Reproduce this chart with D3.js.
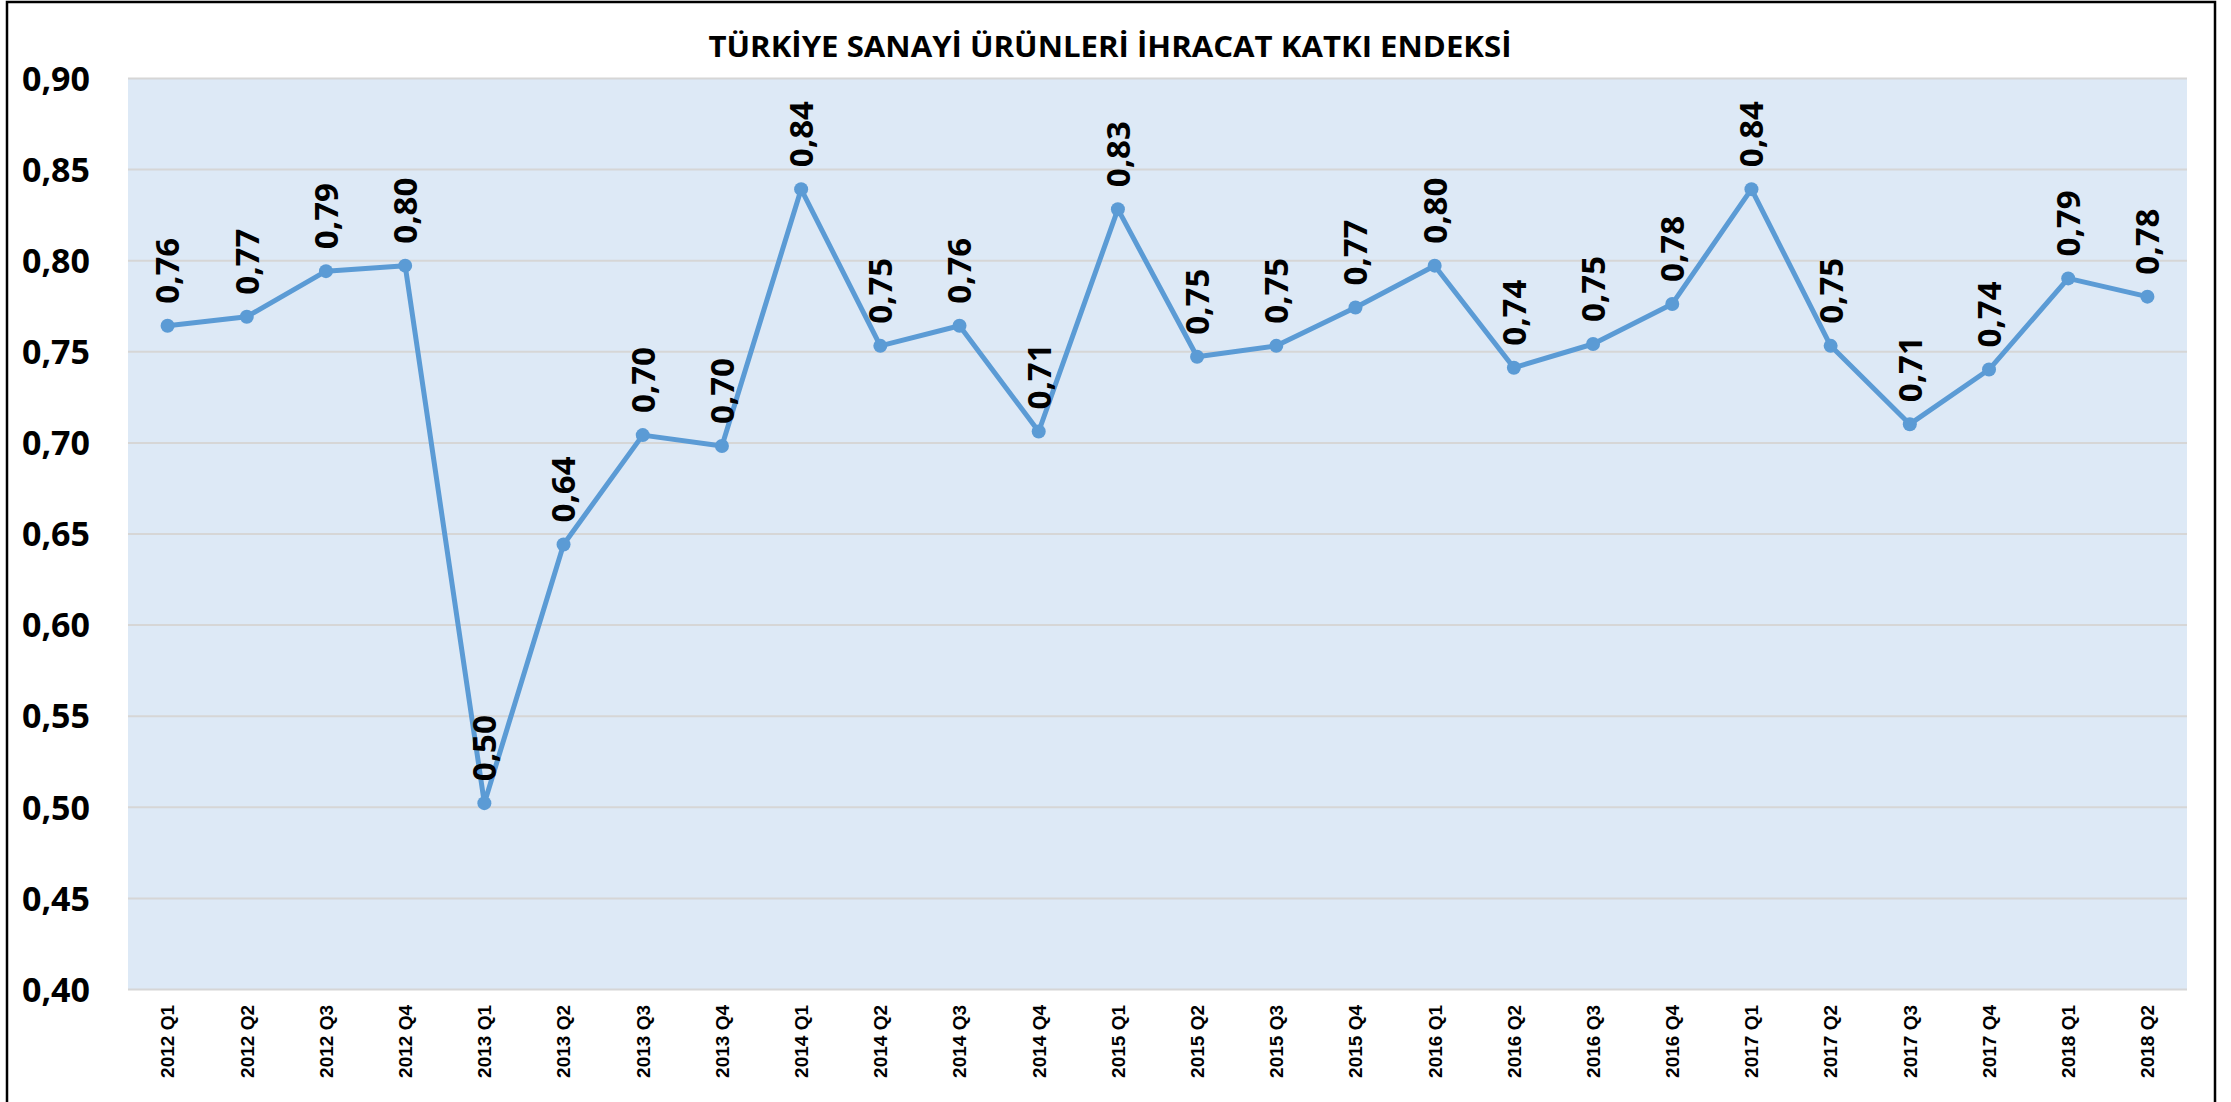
<!DOCTYPE html>
<html>
<head>
<meta charset="utf-8">
<script src="https://cdn.jsdelivr.net/npm/d3@7"></script>
<style>
  html, body { margin: 0; padding: 0; background: #ffffff; }
  svg { display: block; }
</style>
</head>
<body>
<svg id="chart" width="2231" height="1102"></svg>
<script>
const titleText = "TÜRKİYE SANAYİ ÜRÜNLERİ İHRACAT KATKI ENDEKSİ";
const categories = [
  "2012 Q1","2012 Q2","2012 Q3","2012 Q4",
  "2013 Q1","2013 Q2","2013 Q3","2013 Q4",
  "2014 Q1","2014 Q2","2014 Q3","2014 Q4",
  "2015 Q1","2015 Q2","2015 Q3","2015 Q4",
  "2016 Q1","2016 Q2","2016 Q3","2016 Q4",
  "2017 Q1","2017 Q2","2017 Q3","2017 Q4",
  "2018 Q1","2018 Q2"
];
const values = [
  0.764, 0.769, 0.794, 0.797,
  0.502, 0.644, 0.704, 0.698,
  0.839, 0.753, 0.764, 0.706,
  0.828, 0.747, 0.753, 0.774,
  0.797, 0.741, 0.754, 0.776,
  0.839, 0.753, 0.710, 0.740,
  0.790, 0.780
];
const yTicks = [0.40, 0.45, 0.50, 0.55, 0.60, 0.65, 0.70, 0.75, 0.80, 0.85, 0.90];

const trLocale = d3.formatLocale({decimal: ",", thousands: ".", grouping: [3], currency: ["₺", ""]});
const fmt = trLocale.format(".2f");

const svg = d3.select("#chart");
const W = 2231, H = 1102;
const plot = {left: 128, right: 2187, top: 78, bottom: 989};

svg.append("rect").attr("x", 0).attr("y", 0).attr("width", W).attr("height", H).attr("fill", "#ffffff");

// outer frame
svg.append("rect")
  .attr("x", 7).attr("y", 2)
  .attr("width", 2215 - 7).attr("height", 1120)
  .attr("fill", "none").attr("stroke", "#000").attr("stroke-width", 2.5);

const x = d3.scaleBand().domain(categories).range([plot.left, plot.right]).padding(0);
const y = d3.scaleLinear().domain([0.40, 0.90]).range([plot.bottom, plot.top]);
const cx = c => x(c) + x.bandwidth() / 2;

// plot background
svg.append("rect")
  .attr("x", plot.left).attr("y", plot.top)
  .attr("width", plot.right - plot.left).attr("height", plot.bottom - plot.top)
  .attr("fill", "#DDE9F6");

// gridlines
const grid = svg.append("g").attr("transform", `translate(${plot.left},0)`)
  .call(d3.axisLeft(y).tickValues(yTicks).tickSize(-(plot.right - plot.left)).tickFormat(""));
grid.select(".domain").remove();
grid.selectAll(".tick line").attr("stroke", "#D6D6D6").attr("stroke-width", 2);

// y axis labels
const yAxis = svg.append("g").attr("transform", `translate(${plot.left},0)`)
  .call(d3.axisLeft(y).tickValues(yTicks).tickSize(0).tickPadding(38).tickFormat(fmt));
yAxis.select(".domain").remove();
yAxis.selectAll(".tick text")
  .attr("font-family", "'Open Sans', 'Noto Sans', sans-serif")
  .attr("font-weight", 700)
  .attr("font-size", 34)
  .attr("fill", "#000")
  .attr("dy", "0.36em");

// x axis labels
const xAxis = svg.append("g").attr("transform", `translate(0,${plot.bottom})`)
  .call(d3.axisBottom(x).tickSize(0).tickPadding(0));
xAxis.select(".domain").remove();
xAxis.selectAll(".tick text")
  .attr("font-family", "'Liberation Sans', Arial, sans-serif")
  .attr("font-weight", 700)
  .attr("font-size", 19)
  .attr("fill", "#000")
  .attr("text-anchor", "end")
  .attr("transform", "translate(0,16) rotate(-90)")
  .attr("x", 0).attr("y", 0)
  .attr("dy", "0.36em");

// line
const line = d3.line().x((d, i) => cx(categories[i])).y(d => y(d));
svg.append("path")
  .datum(values)
  .attr("d", line)
  .attr("fill", "none")
  .attr("stroke", "#5B9BD5")
  .attr("stroke-width", 5)
  .attr("stroke-linejoin", "round");

// points
svg.append("g").selectAll("circle")
  .data(values)
  .join("circle")
  .attr("cx", (d, i) => cx(categories[i]))
  .attr("cy", d => y(d))
  .attr("r", 7)
  .attr("fill", "#5B9BD5");

// data labels
svg.append("g").selectAll("text")
  .data(values)
  .join("text")
  .attr("transform", (d, i) => `translate(${cx(categories[i])},${y(d) - 22}) rotate(-90)`)
  .attr("text-anchor", "start")
  .attr("dy", "0.36em")
  .attr("font-family", "'Open Sans', 'Noto Sans', sans-serif")
  .attr("font-weight", 700)
  .attr("font-size", 33)
  .attr("fill", "#000")
  .text(d => fmt(d));

// title
svg.append("text")
  .attr("x", 1110).attr("y", 57)
  .attr("text-anchor", "middle")
  .attr("font-family", "'Liberation Sans Narrow', 'Open Sans', sans-serif")
  .attr("font-weight", 700)
  .attr("font-size", 29)
  .attr("textLength", 803)
  .attr("lengthAdjust", "spacingAndGlyphs")
  .attr("fill", "#000")
  .text(titleText);
</script>
</body>
</html>
